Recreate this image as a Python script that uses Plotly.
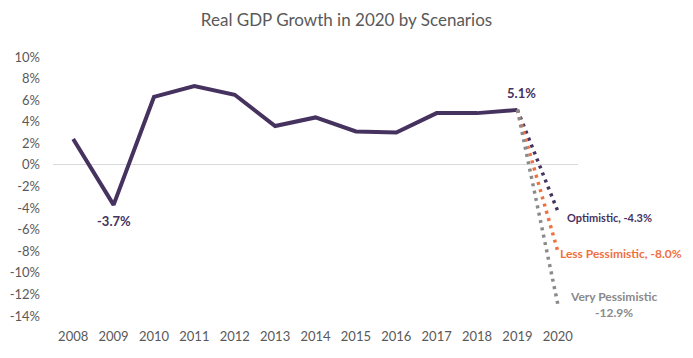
import plotly.graph_objects as go

years = ["2008", "2009", "2010", "2011", "2012", "2013", "2014", "2015", "2016", "2017", "2018", "2019", "2020"]
gdp = [2.4, -3.7, 6.3, 7.3, 6.5, 3.6, 4.4, 3.1, 3.0, 4.8, 4.8, 5.1]
scenario_names = ["Optimistic", "Less Pessimistic", "Very Pessimistic"]
scenario_2020 = [-4.3, -8.0, -12.9]
y_ticks = [10, 8, 6, 4, 2, 0, -2, -4, -6, -8, -10, -12, -14]

PURPLE = "#45325f"
ORANGE = "#f0703f"
GRAY = "#8a8a8a"
TXT = "#595959"
FONT = "Lato, 'Open Sans', sans-serif"

fig = go.Figure()
fig.add_trace(go.Scatter(x=years[:len(gdp)], y=gdp, mode="lines",
                         line=dict(color=PURPLE, width=4), hoverinfo="skip"))
scen_colors = [PURPLE, ORANGE, GRAY]
for name, v, c in zip(scenario_names, scenario_2020, scen_colors):
    fig.add_trace(go.Scatter(x=[years[11], years[12]], y=[gdp[11], v], mode="lines",
                             line=dict(color=c, width=3.5, dash="3px,4.5px"), name=name, hoverinfo="skip"))

i19 = years.index("2019")
i09 = years.index("2009")
i20 = years.index("2020")
ann = [
    dict(x=i19, y=gdp[i19], text="<b>%.1f%%</b>" % gdp[i19], showarrow=False, yshift=17, xshift=4,
         font=dict(color=PURPLE, size=13, family=FONT)),
    dict(x=i09, y=gdp[i09], text="<b>%.1f%%</b>" % gdp[i09], showarrow=False, yshift=-16, xshift=0,
         font=dict(color=PURPLE, size=13, family=FONT)),
    dict(x=i20, y=scenario_2020[0], text="<b>%s, %.1f%%</b>" % (scenario_names[0], scenario_2020[0]),
         showarrow=False, xanchor="left", xshift=7, yshift=-6,
         font=dict(color=PURPLE, size=11, family=FONT)),
    dict(x=i20, y=scenario_2020[1], text="<b>%s, %.1f%%</b>" % (scenario_names[1], scenario_2020[1]),
         showarrow=False, xanchor="left", xshift=0, yshift=-2,
         font=dict(color=ORANGE, size=12, family=FONT)),
    dict(x=i20, y=scenario_2020[2], text="<b>%s<br>%.1f%%</b>" % (scenario_names[2], scenario_2020[2]),
         showarrow=False, xanchor="center", xshift=56, yshift=0,
         font=dict(color=GRAY, size=12, family=FONT)),
]
for a in ann:
    a["xref"] = "x"
    a["yref"] = "y"

fig.update_layout(
    width=677, height=342,
    margin=dict(l=45, r=107, t=49, b=34, autoexpand=False),
    paper_bgcolor="white", plot_bgcolor="white",
    showlegend=False,
    title=dict(text="Real GDP Growth in 2020 by Scenarios", x=0.5, xanchor="center",
               y=1 - 12 / 342, yanchor="middle", font=dict(family=FONT, size=17, color=TXT)),
    font=dict(family=FONT, color=TXT, size=13),
    xaxis=dict(type="category", categoryorder="array", categoryarray=years, range=[-0.5, 12.5],
               showgrid=False, showline=False, zeroline=False, ticks="", automargin=False,
               tickfont=dict(size=13, color=TXT), ticklabelstandoff=11),
    yaxis=dict(range=[-14, 10], tickvals=y_ticks, ticktext=["%d%%" % t for t in y_ticks],
               showgrid=False, zeroline=True, zerolinecolor="#d9d9d9", zerolinewidth=1, automargin=False,
               showline=False, ticks="", tickfont=dict(size=13, color=TXT), ticklabelstandoff=12),
    annotations=ann,
)
fig.write_html("out.html")
